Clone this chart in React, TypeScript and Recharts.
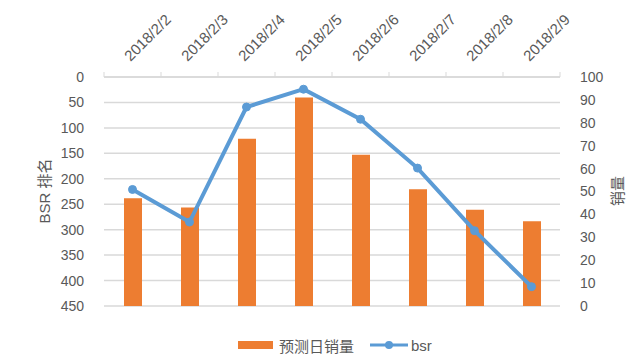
import {
  ComposedChart,
  Bar,
  Line,
  XAxis,
  YAxis,
  CartesianGrid,
  Legend,
} from "recharts";

const dates = ["2018/2/2", "2018/2/3", "2018/2/4", "2018/2/5", "2018/2/6", "2018/2/7", "2018/2/8", "2018/2/9"];
const sales = [47, 43, 73, 91, 66, 51, 42, 37];
const bsr = [221, 285, 59, 24, 83, 179, 302, 412];
const rankTicks = [0, 50, 100, 150, 200, 250, 300, 350, 400, 450];
const salesTicks = [0, 10, 20, 30, 40, 50, 60, 70, 80, 90, 100];

const data = dates.map((d, i) => ({ date: d, sales: sales[i], bsr: bsr[i] }));

const TEXT = "#595959";
const GRID = "#d9d9d9";
const ORANGE = "#ED7D31";
const BLUE = "#5B9BD5";
const FONT = "'Liberation Sans', 'Noto Sans CJK SC', sans-serif";

// ticks sit on category boundaries like Excel, labels start at category centre
const DateTick = (props: any) => {
  const { x, payload, index } = props;
  const half = payload?.offset ?? 28.5;
  const axisY = 77;
  const tx = x - 2;
  const ty = 62;
  return (
    <g>
      <line x1={x - half} y1={axisY} x2={x - half} y2={axisY - 5} stroke={GRID} />
      {index === dates.length - 1 && (
        <line x1={x + half} y1={axisY} x2={x + half} y2={axisY - 5} stroke={GRID} />
      )}
      <text
        x={tx}
        y={ty}
        transform={`rotate(-45 ${tx} ${ty})`}
        textAnchor="start"
        fontSize={15}
        fill={TEXT}
        fontFamily={FONT}
      >
        {payload.value}
      </text>
    </g>
  );
};

const LegendBox = () => (
  <div
    style={{
      height: 49,
      display: "flex",
      alignItems: "flex-end",
      paddingLeft: 238,
      fontFamily: FONT,
      fontSize: 15,
      color: TEXT,
      boxSizing: "border-box",
    }}
  >
    <div style={{ display: "flex", alignItems: "center", height: 20 }}>
      <span style={{ width: 35, height: 8, background: ORANGE, display: "inline-block" }} />
      <span style={{ marginLeft: 6 }}>预测日销量</span>
      <svg width={38} height={12} style={{ marginLeft: 16 }}>
        <line x1={0} y1={6} x2={38} y2={6} stroke={BLUE} strokeWidth={3} />
        <circle cx={19} cy={6} r={4} fill={BLUE} />
      </svg>
      <span style={{ marginLeft: 3 }}>bsr</span>
    </div>
  </div>
);

export default function App() {
  return (
    <div style={{ position: "absolute", left: 0, top: 0, background: "#fff" }}>
      <ComposedChart
        width={640}
        height={360}
        data={data}
        margin={{ top: 0, right: 0, bottom: 5, left: 0 }}
      >
        <CartesianGrid yAxisId="left" vertical={false} stroke={GRID} strokeWidth={1.5} />
        <XAxis
          dataKey="date"
          orientation="top"
          height={77}
          axisLine={{ stroke: GRID, strokeWidth: 1.5 }}
          tickLine={false}
          tick={<DateTick />}
          interval={0}
        />
        <YAxis
          yAxisId="left"
          orientation="left"
          reversed
          domain={[0, 450]}
          ticks={rankTicks}
          width={104}
          axisLine={false}
          tickLine={false}
          tickMargin={14}
          tick={{ fontSize: 14, fill: TEXT, fontFamily: FONT }}
          label={{
            content: () => (
              <text
                x={46}
                y={191}
                transform="rotate(-90 46 191)"
                textAnchor="middle"
                dominantBaseline="middle"
                fontSize={15}
                fill={TEXT}
                fontFamily={FONT}
              >
                BSR 排名
              </text>
            ),
          }}
        />
        <YAxis
          yAxisId="right"
          orientation="right"
          domain={[0, 100]}
          ticks={salesTicks}
          width={80}
          axisLine={false}
          tickLine={false}
          tickMargin={14}
          tick={{ fontSize: 14, fill: TEXT, fontFamily: FONT }}
          label={{
            content: () => (
              <text
                x={619}
                y={191}
                transform="rotate(-90 619 191)"
                textAnchor="middle"
                dominantBaseline="middle"
                fontSize={15}
                fill={TEXT}
                fontFamily={FONT}
              >
                销量
              </text>
            ),
          }}
        />
        <Legend verticalAlign="bottom" content={<LegendBox />} />
        <Bar
          yAxisId="right"
          dataKey="sales"
          name="预测日销量"
          fill={ORANGE}
          barSize={18}
          isAnimationActive={false}
        />
        <Line
          yAxisId="left"
          dataKey="bsr"
          name="bsr"
          stroke={BLUE}
          strokeWidth={4}
          dot={{ r: 4, fill: BLUE, stroke: BLUE, strokeWidth: 1 }}
          activeDot={false}
          isAnimationActive={false}
        />
      </ComposedChart>
    </div>
  );
}
